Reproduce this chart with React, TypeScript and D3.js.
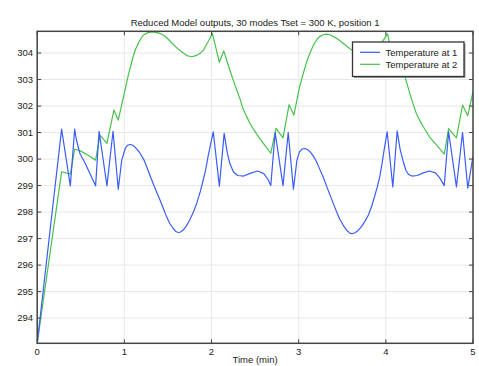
import React from "react";
import * as d3 from "d3";

const xTicks = [0, 1, 2, 3, 4, 5];
const yTicks = [294, 295, 296, 297, 298, 299, 300, 301, 302, 303, 304];
const seriesNames = ["Temperature at 1", "Temperature at 2"];
const title = "Reduced Model outputs, 30 modes Tset = 300 K, position 1";
const xLabel = "Time (min)";

const blueT = [0, 0.28, 0.38, 0.43, 0.45, 0.49, 0.55, 0.605, 0.67, 0.71, 0.8, 0.87, 0.93, 0.97, 1.01, 1.035, 1.064, 1.09, 1.12, 1.15, 1.18, 1.22, 1.256, 1.29, 1.33, 1.37, 1.41, 1.45, 1.485, 1.52, 1.56, 1.59, 1.62, 1.645, 1.675, 1.71, 1.75, 1.79, 1.83, 1.87, 1.905, 1.935, 1.96, 2.02, 2.09, 2.145, 2.18, 2.21, 2.25, 2.3, 2.37, 2.45, 2.53, 2.6, 2.65, 2.68, 2.73, 2.82, 2.88, 2.94, 2.98, 3.01, 3.04, 3.07, 3.1, 3.13, 3.17, 3.205, 3.24, 3.28, 3.32, 3.36, 3.4, 3.435, 3.47, 3.51, 3.55, 3.59, 3.62, 3.645, 3.68, 3.72, 3.76, 3.8, 3.835, 3.87, 3.9, 3.93, 3.955, 3.98, 4.015, 4.08, 4.13, 4.165, 4.2, 4.23, 4.26, 4.3, 4.36, 4.43, 4.5, 4.57, 4.62, 4.67, 4.72, 4.81, 4.88, 4.94, 5.0];
const blueV = [293.05, 301.13, 298.99, 301.13, 300.72, 300.21, 299.84, 299.46, 298.99, 301.05, 298.99, 301.05, 298.86, 299.96, 300.4, 300.52, 300.55, 300.53, 300.46, 300.35, 300.22, 300.0, 299.71, 299.42, 299.08, 298.76, 298.45, 298.12, 297.82, 297.58, 297.38, 297.27, 297.23, 297.25, 297.32, 297.47, 297.7, 297.98, 298.33, 298.76, 299.21, 299.63, 300.09, 301.03, 298.98, 300.97, 300.25, 299.84, 299.52, 299.38, 299.36, 299.47, 299.55, 299.45, 299.22, 299.0, 301.0, 299.0, 301.0, 298.86, 299.96, 300.28, 300.38, 300.4, 300.36, 300.28, 300.1, 299.9, 299.63, 299.33, 298.98, 298.64, 298.3, 298.01, 297.74, 297.51, 297.32, 297.2, 297.19, 297.22, 297.3, 297.45, 297.65, 297.89, 298.2, 298.58, 298.93, 299.33, 299.8, 300.34, 301.03, 298.95, 301.06, 300.35, 299.9, 299.58, 299.42, 299.36, 299.38, 299.48, 299.55, 299.48, 299.28, 299.0, 301.03, 298.95, 301.0, 298.9, 300.1];

const greenT = [0, 0.28, 0.38, 0.43, 0.5, 0.58, 0.67, 0.72, 0.8, 0.88, 0.93, 0.99, 1.045, 1.1, 1.13, 1.16, 1.19, 1.22, 1.27, 1.33, 1.39, 1.45, 1.5, 1.56, 1.62, 1.68, 1.72, 1.77, 1.82, 1.87, 1.91, 1.94, 1.97, 2.01, 2.09, 2.14, 2.21, 2.25, 2.29, 2.33, 2.36, 2.4, 2.44, 2.49, 2.54, 2.61, 2.68, 2.74, 2.82, 2.89, 2.945, 3.01, 3.05, 3.09, 3.13, 3.17, 3.21, 3.24, 3.28, 3.32, 3.36, 3.4, 3.45, 3.51, 3.56, 3.61, 3.68, 3.72, 3.77, 3.82, 3.87, 3.91, 3.94, 3.97, 4.02, 4.09, 4.14, 4.22, 4.275, 4.31, 4.35, 4.39, 4.43, 4.5, 4.6, 4.67, 4.72, 4.81, 4.88, 4.94, 5.0];
const greenV = [293.05, 299.52, 299.43, 300.38, 300.3, 300.15, 299.96, 300.9, 300.59, 301.85, 301.47, 302.35, 303.17, 303.86, 304.15, 304.37, 304.55, 304.68, 304.77, 304.8, 304.76, 304.68, 304.53, 304.33, 304.14, 303.99, 303.9, 303.86, 303.9, 303.99, 304.12, 304.3, 304.48, 304.74, 303.65, 304.08, 303.36, 302.97, 302.6, 302.24, 301.91, 301.62, 301.35, 301.08, 300.84, 300.53, 300.22, 301.16, 300.8, 302.05, 301.66, 302.72, 303.2, 303.65, 304.0, 304.3, 304.52, 304.62, 304.69, 304.71, 304.69, 304.62, 304.52, 304.37, 304.24, 304.11, 303.99, 303.9, 303.86, 303.9, 303.99, 304.12, 304.3, 304.48, 304.72, 303.65, 304.08, 303.1, 302.48, 302.1, 301.72, 301.45, 301.22, 300.84, 300.46, 300.19, 301.15, 300.8, 302.04, 301.63, 302.54];

const W = 479, H = 366;
const m = { left: 37.2, right: 473, top: 31.3, bottom: 343.3 };
const BLUE = "#3b5cf6";
const GREEN = "#46c24c";
const FONT = "'Liberation Sans', Arial, sans-serif";

export default function App() {
  const x = d3.scaleLinear().domain([0, 5]).range([m.left, m.right]);
  const y = d3.scaleLinear().domain([293.05, 304.82]).range([m.bottom, m.top]);
  const line = d3.line<[number, number]>().x(d => x(d[0])).y(d => y(d[1]));
  const blue = blueT.map((t, i) => [t, blueV[i]] as [number, number]);
  const green = greenT.map((t, i) => [t, greenV[i]] as [number, number]);
  const axisColor = "#444";
  const tl = 4;
  const lx = 352.5, ly = 42, lw = 111.5, lh = 34.5;
  return (
    <svg width={W} height={H} style={{ position: "absolute", left: 0, top: 0, background: "#fff" }} fontFamily={FONT}>
      <rect width={W} height={H} fill="#fff" />
      <defs>
        <clipPath id="plot">
          <rect x={m.left} y={m.top} width={m.right - m.left} height={m.bottom - m.top} />
        </clipPath>
      </defs>
      {xTicks.map(t => (
        <line key={"gx" + t} x1={x(t)} x2={x(t)} y1={m.top} y2={m.bottom} stroke="#e8e8e8" strokeWidth={1} />
      ))}
      {yTicks.map(t => (
        <line key={"gy" + t} x1={m.left} x2={m.right} y1={y(t)} y2={y(t)} stroke="#e8e8e8" strokeWidth={1} />
      ))}
      <g clipPath="url(#plot)">
        <path d={line(green) || ""} fill="none" stroke={GREEN} strokeWidth={1.2} strokeLinejoin="round" />
        <path d={line(blue) || ""} fill="none" stroke={BLUE} strokeWidth={1.2} strokeLinejoin="round" />
      </g>
      <rect x={m.left} y={m.top} width={m.right - m.left} height={m.bottom - m.top} fill="none" stroke={axisColor} strokeWidth={1.5} />
      {xTicks.map(t => (
        <g key={"tx" + t}>
          <line x1={x(t)} x2={x(t)} y1={m.bottom} y2={m.bottom - tl} stroke={axisColor} strokeWidth={1} />
          <line x1={x(t)} x2={x(t)} y1={m.top} y2={m.top + tl} stroke={axisColor} strokeWidth={1} />
          <text x={x(t)} y={355} fontSize={9.5} textAnchor="middle" fill="#222">{t}</text>
        </g>
      ))}
      {yTicks.map(t => (
        <g key={"ty" + t}>
          <line x1={m.left} x2={m.left + tl} y1={y(t)} y2={y(t)} stroke={axisColor} strokeWidth={1} />
          <line x1={m.right} x2={m.right - tl} y1={y(t)} y2={y(t)} stroke={axisColor} strokeWidth={1} />
          <text x={33} y={y(t) + 3.3} fontSize={9.5} textAnchor="end" fill="#222">{t}</text>
        </g>
      ))}
      <text x={(m.left + m.right) / 2} y={25.5} fontSize={9.5} textAnchor="middle" fill="#222">{title}</text>
      <text x={(m.left + m.right) / 2} y={363} fontSize={9.5} textAnchor="middle" fill="#222">{xLabel}</text>
      <rect x={lx + 1.5} y={ly + 1.5} width={lw} height={lh} fill="#999" />
      <rect x={lx} y={ly} width={lw} height={lh} fill="#fff" stroke="#333" strokeWidth={1.3} />
      {seriesNames.map((n, i) => (
        <g key={n}>
          <line x1={360} x2={380} y1={52.3 + i * 12} y2={52.3 + i * 12} stroke={i === 0 ? BLUE : GREEN} strokeWidth={1.2} />
          <text x={385.5} y={55.6 + i * 12} fontSize={9.5} fill="#222">{n}</text>
        </g>
      ))}
    </svg>
  );
}
